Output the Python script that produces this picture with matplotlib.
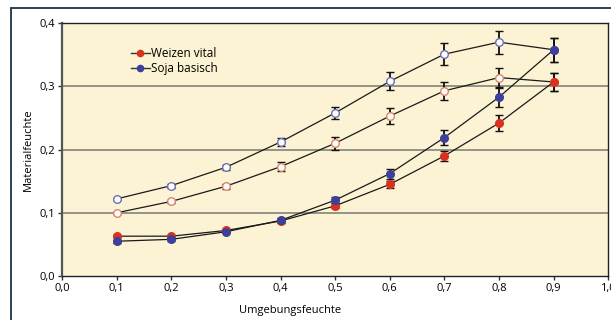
import numpy as np
import matplotlib
matplotlib.use('Agg')
import matplotlib.pyplot as plt
from matplotlib.patches import Rectangle
from matplotlib.lines import Line2D

plt.rcParams['font.family'] = ['Open Sans', 'DejaVu Sans']

# data
x = [0.1, 0.2, 0.3, 0.4, 0.5, 0.6, 0.7, 0.8, 0.9]

weizen_ad = [0.063, 0.063, 0.072, 0.087, 0.111, 0.145, 0.190, 0.242, 0.307]
weizen_ad_err = [0.002, 0.002, 0.002, 0.003, 0.004, 0.006, 0.008, 0.012, 0.014]
weizen_de = [0.100, 0.118, 0.142, 0.173, 0.210, 0.253, 0.293, 0.314, 0.307]
weizen_de_err = [0.002, 0.003, 0.004, 0.007, 0.010, 0.013, 0.014, 0.015, 0.014]

soja_ad = [0.055, 0.058, 0.070, 0.088, 0.120, 0.162, 0.219, 0.283, 0.358]
soja_ad_err = [0.002, 0.002, 0.002, 0.003, 0.005, 0.008, 0.012, 0.015, 0.019]
soja_de = [0.122, 0.143, 0.172, 0.212, 0.258, 0.308, 0.351, 0.370, 0.358]
soja_de_err = [0.002, 0.003, 0.004, 0.006, 0.009, 0.014, 0.017, 0.018, 0.019]

xticks = [0.0, 0.1, 0.2, 0.3, 0.4, 0.5, 0.6, 0.7, 0.8, 0.9, 1.0]
yticks = [0.0, 0.1, 0.2, 0.3, 0.4]

red = '#d8321f'
blue = '#3c3f9c'
red_edge = '#d9876a'
blue_edge = '#6c70b8'

fig = plt.figure(figsize=(6.11, 3.2), dpi=100)
ax = fig.add_axes([0.1015, 0.1375, 0.894, 0.79])
ax.set_facecolor('#fbf3d3')

# frame around the figure
fig.patches.append(Rectangle((11 / 611, -0.1), 1.2, 1.1 - 8 / 320, transform=fig.transFigure,
                             fill=False, edgecolor='#1d3444', linewidth=1.3, zorder=0))

for yv in [0.1, 0.2, 0.3]:
    ax.axhline(yv, color='#8c8b80', linewidth=1.3, zorder=1)

def series(y, err, face, edge):
    ax.errorbar(x, y, yerr=err, color='#1a1a1a', linewidth=0.9, ecolor='#111111',
                elinewidth=1.3, capsize=3, capthick=1.5, marker='o', markersize=5.5,
                markerfacecolor=face, markeredgecolor=edge, markeredgewidth=1.0, zorder=3)

series(soja_de, soja_de_err, 'white', blue_edge)
series(weizen_de, weizen_de_err, 'white', red_edge)
series(weizen_ad, weizen_ad_err, red, red)
series(soja_ad, soja_ad_err, blue, blue)

ax.set_xlim(0, 1.0)
ax.set_ylim(0, 0.4)
ax.set_xticks(xticks)
ax.set_yticks(yticks)
ax.set_xticklabels([('%.1f' % v).replace('.', ',') for v in xticks], fontsize=8)
ax.set_yticklabels([('%.1f' % v).replace('.', ',') for v in yticks], fontsize=8)
ax.tick_params(direction='out', length=3, width=1, color='#333333', pad=2)
for s in ax.spines.values():
    s.set_color('#222222')
    s.set_linewidth(1.0)
ax.spines['left'].set_linewidth(1.6)
ax.spines['left'].set_color('#555555')

ax.set_xlabel('Umgebungsfeuchte', fontsize=8)
ax.xaxis.set_label_coords(0.418, -0.115)
ax.set_ylabel('Materialfeuchte', fontsize=8)
ax.yaxis.set_label_coords(-0.052, 0.5)

handles = [Line2D([], [], color='#333333', linewidth=1.0, marker='o', markersize=4.5,
                  markerfacecolor=red, markeredgecolor=red),
           Line2D([], [], color='#333333', linewidth=1.0, marker='o', markersize=4.5,
                  markerfacecolor=blue, markeredgecolor=blue)]
ax.legend(handles, ['Weizen vital', 'Soja basisch'], loc='upper left',
          bbox_to_anchor=(0.115, 0.93), frameon=False, fontsize=8.5,
          handlelength=1.6, handletextpad=0.1, labelspacing=0.2, borderpad=0)

fig.savefig('out.png', dpi=100)
